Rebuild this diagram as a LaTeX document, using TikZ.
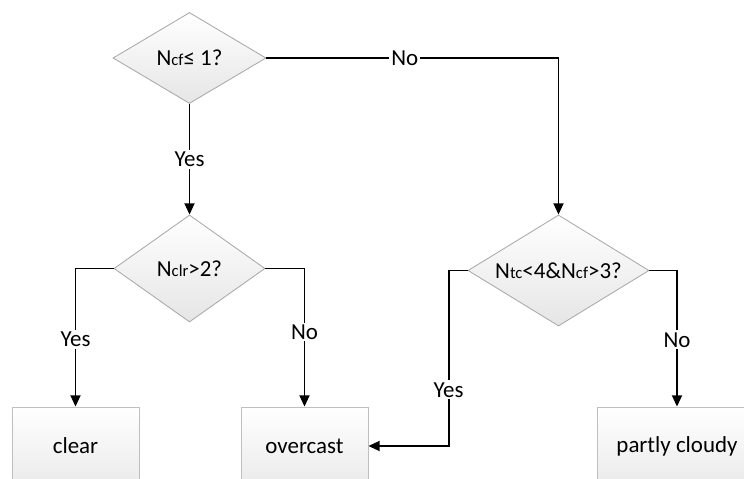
\documentclass[tikz,border=0pt]{standalone}
\usepackage{fontspec}
\setmainfont{Carlito}
\usetikzlibrary{shapes.geometric,arrows.meta}
\newcommand{\sbs}[1]{{\fontsize{12.5}{12.5}\selectfont #1}}
\begin{document}
\begin{tikzpicture}[x=0.75pt,y=-0.75pt,
  every node/.style={font=\fontsize{17.2}{20}\selectfont},
  dia/.style={diamond,draw=black!35,line width=0.6pt,inner sep=0pt,top color=white,bottom color=black!10},
  outbox/.style={rectangle,draw=black!25,line width=0.6pt,inner sep=0pt,top color=white,bottom color=black!8,minimum width=0.75pt*127,minimum height=0.75pt*78},
  conn/.style={draw=black,line width=1.35pt},
  arr/.style={conn,-{Triangle[length=8.5pt,width=7.5pt]}},
  lbl/.style={fill=white,inner sep=1.5pt}]
\clip (0,0) rectangle (744,479);
\fill[white] (0,0) rectangle (744,479);
% diamonds
\node[dia,minimum width=0.75pt*153,minimum height=0.75pt*91] (d1) at (189.5,58) {};
\node (t1) at (d1.center) {N\sbs{cf}≤ 1?};
\node[dia,minimum width=0.75pt*151,minimum height=0.75pt*107] (d2) at (189.5,268.5) {};
\node (t2) at (d2.center) {N\sbs{clr}>2?};
\node[dia,minimum width=0.75pt*181,minimum height=0.75pt*111] (d3) at (558.5,270.5) {};
\node (t3) at (d3.center) {N\sbs{tc}<4\&N\sbs{cf}>3?};
% boxes
\node[outbox] (clear) at (75.5,446) {clear};
\node[outbox] (overcast) at (304.5,446) {overcast};
\node[outbox,minimum width=0.75pt*160] (partly) at (677,446) {partly cloudy};
% connectors
\draw[arr] (d1.east) -| node[lbl,pos=0.237] {No} (d3.north);
\draw[arr] (d1.south) -- node[lbl] {Yes} (d2.north);
\draw[arr] (d2.west) -| node[lbl,pos=0.757] {Yes} (clear.north);
\draw[arr] (d2.east) -| node[lbl,pos=0.73] {No} (overcast.north);
\draw[arr] (d3.west) -- ++(-19,0) |- node[lbl,pos=0.34] {Yes} (overcast.east);
\draw[arr] (d3.east) -| node[lbl,pos=0.755] {No} (partly.north);
\end{tikzpicture}
\end{document}
